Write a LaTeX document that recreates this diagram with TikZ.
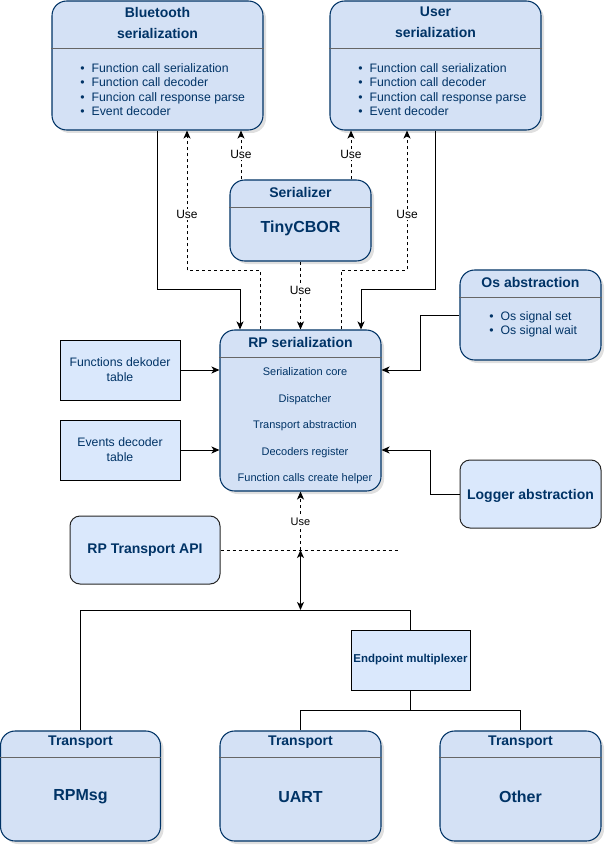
\documentclass[tikz,border=0pt]{standalone}
\usepackage{fontspec}
\setmainfont{Liberation Sans}
\usetikzlibrary{arrows.meta,calc,shadows}
\definecolor{navy}{HTML}{003366}
\definecolor{lanefill}{HTML}{D4E1F5}
\definecolor{boxfill}{HTML}{DAE8FC}
\definecolor{divgray}{HTML}{666666}
\begin{document}
\begin{tikzpicture}[x=0.75pt,y=-0.75pt,
  lane/.style={draw=navy, fill=lanefill, line width=0.8pt, rounded corners=11pt, inner sep=0pt,
    drop shadow={shadow xshift=2.25pt, shadow yshift=-2.25pt, opacity=0.25}},
  plainbox/.style={draw=black, fill=boxfill, line width=0.75pt, inner sep=0pt, align=center,
    text=navy, font=\fontsize{9.2}{11.25}\selectfont},
  roundbox/.style={plainbox, draw=black!85, rounded corners=7.5pt, font=\bfseries\fontsize{10.5}{12.6}\selectfont},
  divider/.style={draw=divgray, line width=1.1pt},
  ttl/.style={text=navy, font=\bfseries\fontsize{10.5}{15.75}\selectfont, inner sep=0pt, align=center},
  big/.style={text=navy, font=\bfseries\fontsize{12}{14}\selectfont, inner sep=0pt},
  lst/.style={text=navy, font=\fontsize{9.2}{10.75}\selectfont, inner sep=0pt, align=left},
  items/.style={text=navy, font=\fontsize{8.25}{19.9}\selectfont, inner sep=0pt, align=center},
  uselbl/.style={fill=white, text=black, inner sep=1pt, font=\fontsize{9}{10}\selectfont},
  conn/.style={line width=0.75pt, -{Stealth[length=6pt,width=5.25pt,inset=1.6pt]}},
  dconn/.style={conn, dash pattern=on 2.25pt off 2.25pt},
  dline/.style={line width=0.75pt, dash pattern=on 2.25pt off 2.25pt},
  bline/.style={line width=0.75pt},
  biconn/.style={line width=0.75pt, {Stealth[length=6pt,width=5.25pt,inset=1.6pt]}-{Stealth[length=6pt,width=5.25pt,inset=1.6pt]}}
]
\useasboundingbox (0,0) rectangle (604,845);

% boxes
\node[lane, minimum width=158.25pt, minimum height=96.75pt] (bt) at (157.5,65.5) {};
\node[lane, minimum width=158.25pt, minimum height=96.75pt] (us) at (435.5,65.5) {};
\node[lane, minimum width=105.75pt, minimum height=60.75pt] (ser) at (300.5,220.5) {};
\node[lane, minimum width=120.75pt, minimum height=120.75pt] (rp) at (300.5,410.5) {};
\node[plainbox, minimum width=90pt, minimum height=45pt] (ft) at (120,370) {Functions dekoder\\table};
\node[plainbox, minimum width=90pt, minimum height=45pt] (et) at (120,450) {Events decoder\\table};
\node[lane, minimum width=105.75pt, minimum height=67.5pt] (os) at (530.5,315) {};
\node[roundbox, minimum width=105.75pt, minimum height=51pt, text depth=0pt] (lg) at (530.5,494) {Logger abstraction};
\node[roundbox, minimum width=112.5pt, minimum height=51pt] (api) at (145,550) {RP Transport API};
\node[plainbox, minimum width=89.25pt, minimum height=45pt, font=\bfseries\fontsize{8.6}{10}\selectfont] (em) at (410.5,660) {Endpoint multiplexer};
\node[lane, minimum width=120pt, minimum height=82.5pt] (tr1) at (80.5,786) {};
\node[lane, minimum width=120.75pt, minimum height=82.5pt] (tr2) at (300.5,786) {};
\node[lane, minimum width=120.75pt, minimum height=82.5pt] (tr3) at (520.5,786) {};

% dividers
\foreach \n/\d in {bt/48, us/48, ser/28, rp/28, os/28, tr1/27, tr2/27, tr3/27}
  \draw[divider] ($(\n.north west)+(0,\d)$) -- ($(\n.north east)+(0,\d)$);

% texts
\node[ttl] (btt) at (157.5,22.5) {Bluetooth\\serialization};
\node[lst, anchor=west] (btl) at (80,89.5) {\textbullet\hspace{5.3pt}Function call serialization\\\textbullet\hspace{5.3pt}Function call decoder\\\textbullet\hspace{5.3pt}Funcion call response parse\\\textbullet\hspace{5.3pt}Event decoder};
\node[ttl] (ust) at (435.5,22.5) {User\\serialization};
\node[lst, anchor=west] (usl) at (358,89.5) {\textbullet\hspace{5.3pt}Function call serialization\\\textbullet\hspace{5.3pt}Function call decoder\\\textbullet\hspace{5.3pt}Function call response parse\\\textbullet\hspace{5.3pt}Event decoder};
\node[ttl] (sert) at (300.5,192) {Serializer};
\node[big] (serb) at (300.5,228) {TinyCBOR};
\node[ttl] (rpt) at (300.5,342) {RP serialization};
\node[items] (rpl) at (305,426) {Serialization core\\Dispatcher\\Transport abstraction\\Decoders register\\Function calls create helper};
\node[ttl] (ost) at (530.5,282) {Os abstraction};
\node[lst, anchor=west] (osl) at (489,324.5) {\textbullet\hspace{5.3pt}Os signal set\\\textbullet\hspace{5.3pt}Os signal wait};
\node[ttl] (tr1t) at (80.5,742) {Transport};
\node[big] (tr1b) at (80.5,797) {RPMsg};
\node[ttl] (tr2t) at (300.5,742) {Transport};
\node[big] (tr2b) at (300.5,797) {UART};
\node[ttl] (tr3t) at (520.5,742) {Transport};
\node[big] (tr3b) at (520.5,797) {Other};

% top connectors
\draw[conn] (bt.south) |- ($(rp.north)+(-60.5,-40)$) -- ($(rp.north)+(-60.5,0)$);
\draw[conn] (us.south) |- ($(rp.north)+(60.5,-40)$) -- ($(rp.north)+(60.5,0)$);
\draw[dconn] ($(rp.north)+(-40.5,0)$) |- ($(bt.south)+(29.5,140)$) -- node[uselbl, pos=0.4] {Use} ($(bt.south)+(29.5,0)$);
\draw[dconn] ($(rp.north)+(40.5,0)$) |- ($(us.south)+(-28.5,140)$) -- node[uselbl, pos=0.4] {Use} ($(us.south)+(-28.5,0)$);
\draw[dconn] ($(ser.north)+(-59.5,0)$) -- node[uselbl, pos=0.52] {Use} ($(bt.south)+(83.5,0)$);
\draw[dconn] ($(ser.north)+(50.5,0)$) -- node[uselbl, pos=0.52] {Use} ($(us.south)+(-84.5,0)$);
\draw[dconn] (ser.south) -- node[uselbl, pos=0.42] {Use} (rp.north);

% side connectors
\draw[conn] (ft.east) -- (ft.east -| rp.west);
\draw[conn] (et.east) -- (et.east -| rp.west);
\draw[conn] (os.west) -| ($(rp.east)+(39,-40.5)$) -- ($(rp.east)+(0,-40.5)$);
\draw[conn] (lg.west) -| ($(rp.east)+(49,39.5)$) -- ($(rp.east)+(0,39.5)$);

% transport part
\coordinate (dashend) at (398,550);
\coordinate (bus) at (300.5,610);
\draw[dline] (api.east) -- (dashend);
\draw[dconn] (rp.south |- api.east) -- node[uselbl, pos=0.49, font=\fontsize{8.25}{9}\selectfont, inner sep=0.5pt] {Use} (rp.south);
\draw[biconn] (rp.south |- api.east) -- (bus);
\draw[bline] (tr1.north) |- (bus);
\draw[bline] (bus) -| (em.north);
\draw[bline] (em.south) -- ++(0,20) -| (tr2.north);
\draw[bline] (em.south) -- ++(0,20) -| (tr3.north);
\end{tikzpicture}
\end{document}
